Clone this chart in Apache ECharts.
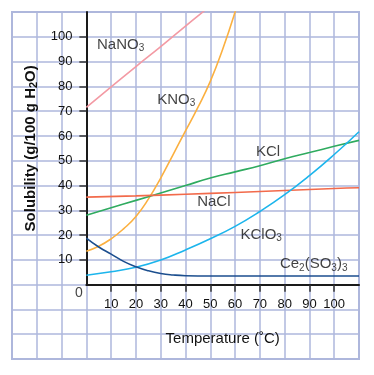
<!DOCTYPE html>
<html><head><meta charset="utf-8">
<script src="https://cdn.jsdelivr.net/npm/echarts@6/dist/echarts.min.js"></script>
<style>html,body{margin:0;padding:0;background:#fff}#c{width:374px;height:375px}</style>
</head><body><div id="c"></div>
<script>
// ---- data ----
const xTickValues = [10,20,30,40,50,60,70,80,90,100];
const yTickValues = [10,20,30,40,50,60,70,80,90,100];
const nano3 = [[0,71.5],[10,79.8],[20,88],[30,96],[40,104.3],[50,112.5],[60,121]];
const kno3 = [[0,13.5],[5,15.5],[10,18.5],[15,22.5],[20,27.5],[25,34.5],[30,43],[35,52.5],[40,62],[45,71.5],[50,82],[55,95],[60,110],[65,127]];
const kcl = [[0,28],[10,31],[20,34],[30,37],[40,40],[50,43],[60,45.5],[70,48],[80,50.8],[90,53.3],[100,55.8],[110,58.2]];
const nacl = [[0,35.3],[20,35.8],[40,36.5],[60,37.2],[80,38],[100,38.8],[110,39.1]];
const kclo3 = [[0,3.8],[10,5.2],[20,7],[30,9.9],[40,14],[50,18.5],[60,23.5],[70,29.5],[80,36.3],[90,44],[100,52.5],[110,61.7]];
const ce2so4 = [[0,18.8],[5,15.2],[10,12.3],[15,9.4],[20,7.2],[25,5.6],[30,4.5],[35,3.9],[40,3.6],[50,3.5],[60,3.5],[70,3.5],[80,3.5],[90,3.5],[100,3.5],[110,3.5]];
const seriesNames = ['NaNO3','KNO3','KCl','NaCl','KClO3','Ce2(SO3)3'];
const seriesLabels = ['NaNO{s|3}','KNO{s|3}','KCl','NaCl','KClO{s|3}','Ce{s|2}(SO{s|3}){s|3}'];
const labelAnchors = [[4.3,96.6],[28.6,74.4],[68.4,53.6],[44.7,33.2],[62.2,20.0],[78.1,8.2]];
const xTitle = 'Temperature (˚C)';
const yTitle = 'Solubility (g/100 g H{s|2}O)';
const zeroLabel = '0';
const zeroAnchor = [-3.0,-3.4];

// ---- layout ----
const W = 374, H = 375;
const gL = 12, gR = 15, gT = 12, gB = 16;
const bgMin = -30, bgMax = 110;
const pxPer = (W - gL - gR) / (bgMax - bgMin);
const p1L = gL + (0 - bgMin) * pxPer;
const p1B = gB + (0 - bgMin) * ((H - gT - gB) / (bgMax - bgMin));

const colors = ['#f39aa4','#fbb040','#2fab5f','#f26a4b','#1cb5ec','#1b4e8e'];
const curves = [nano3,kno3,kcl,nacl,kclo3,ce2so4];
const tickFont = "'Liberation Sans Narrow','Liberation Sans',Arial,sans-serif";
const txtFont = "'Liberation Sans',Arial,sans-serif";
const subRich = { s: { fontSize: 10, padding: [7,0,0,0], fontFamily: txtFont, color: '#111' } };

const gridColor = '#aeb7dc';

const series = curves.map((d,i)=>({
  type:'line', name: seriesNames[i], xAxisIndex:1, yAxisIndex:1,
  data: d, showSymbol:false, symbol:'none', smooth:0.5, clip:true,
  lineStyle:{color:colors[i], width:1.6}, z:3
}));
series.push({
  type:'scatter', xAxisIndex:0, yAxisIndex:0, symbolSize:0, silent:true, clip:false,
  data: labelAnchors.map((p,i)=>({value:p, lbl: seriesLabels[i]})),
  label:{show:true, position:'right', distance:0, formatter:(p)=>p.data.lbl,
    fontFamily: txtFont, fontSize:15, color:'#111', rich: subRich}, z:5
});
series.push({
  type:'scatter', xAxisIndex:0, yAxisIndex:0, symbolSize:0, silent:true, clip:false,
  data: [{value: zeroAnchor}],
  label:{show:true, position:'inside', formatter: zeroLabel,
    fontFamily: tickFont, fontSize:14, color:'#111'}, z:5
});

const chart = echarts.init(document.getElementById('c'), null, {renderer:'canvas'});
chart.setOption({
  animation:false,
  grid:[
    {left:gL, right:gR, top:gT, bottom:gB, show:true, borderColor:gridColor, borderWidth:2, backgroundColor:'#fff'},
    {left:p1L, right:gR, top:gT, bottom:p1B}
  ],
  xAxis:[
    {gridIndex:0, type:'value', min:bgMin, max:bgMax, interval:10,
     axisLine:{show:false}, axisTick:{show:false}, axisLabel:{show:false},
     splitLine:{show:true, lineStyle:{color:gridColor, width:1.5}}},
    {gridIndex:1, type:'value', min:0, max:110, interval:10,
     axisLine:{show:true, onZero:false, lineStyle:{color:'#1a1a1a', width:2}},
     axisTick:{show:true, length:7, customValues:xTickValues, lineStyle:{color:'#333', width:1.5}},
     axisLabel:{show:true, margin:13, customValues:xTickValues, fontFamily:tickFont, fontSize:13, color:'#111'},
     splitLine:{show:false},
     name:xTitle, nameLocation:'middle', nameGap:47,
     nameTextStyle:{fontFamily:txtFont, fontSize:15, color:'#111'}}
  ],
  yAxis:[
    {gridIndex:0, type:'value', min:bgMin, max:bgMax, interval:10,
     axisLine:{show:false}, axisTick:{show:false}, axisLabel:{show:false},
     splitLine:{show:true, lineStyle:{color:gridColor, width:1.5}}},
    {gridIndex:1, type:'value', min:0, max:110, interval:10,
     axisLine:{show:true, onZero:false, lineStyle:{color:'#1a1a1a', width:2}},
     axisTick:{show:true, length:7, customValues:yTickValues, lineStyle:{color:'#333', width:1.5}},
     axisLabel:{show:true, margin:14, customValues:yTickValues, fontFamily:tickFont, fontSize:13, color:'#111'},
     splitLine:{show:false},
     name:yTitle, nameLocation:'middle', nameGap:46,
     nameTextStyle:{fontFamily:txtFont, fontSize:15, fontWeight:'bold', color:'#111', rich: { s: { fontSize: 11, fontWeight:'bold', padding:[7,0,0,0], fontFamily: txtFont, color:'#111' } }}}
  ],
  series: series
});
</script>
</body></html>
